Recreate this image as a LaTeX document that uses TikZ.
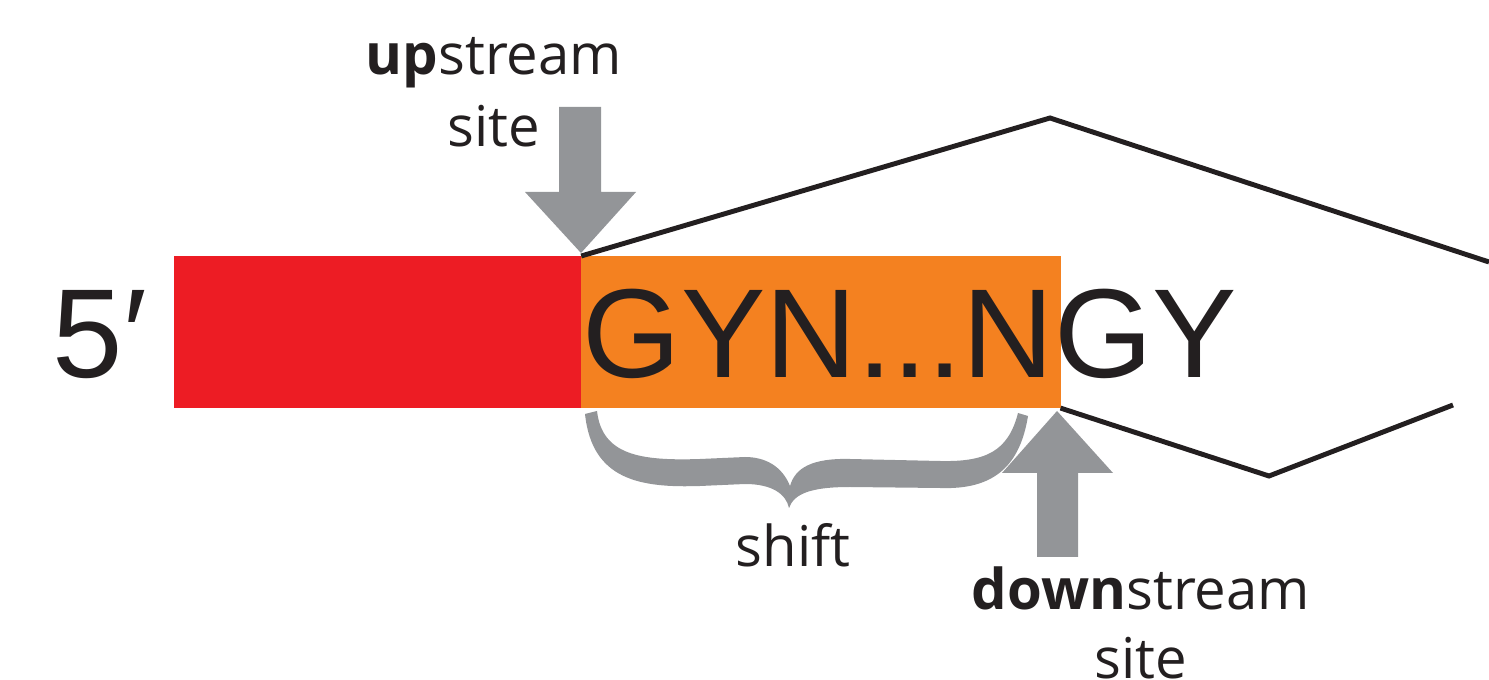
\documentclass[tikz,border=0pt]{standalone}
\usepackage{fontspec}
\setmainfont{Liberation Sans}
\newfontfamily\labelfont{Open Sans}
\usetikzlibrary{positioning}
\definecolor{exonred}{HTML}{ED1C24}
\definecolor{exonorange}{HTML}{F48120}
\definecolor{sitegray}{HTML}{939598}
\definecolor{inkblack}{HTML}{231F20}

\begin{document}
\begin{tikzpicture}[
  x=0.01cm, y=-0.01cm,
  exon/.style={draw=none, inner sep=0pt, outer sep=0pt, minimum height=1.52cm},
  seq/.style={inner sep=0pt, text=inkblack, font=\fontsize{36}{40}\selectfont},
  sitelabel/.style={inner sep=0pt, anchor=base, text=inkblack, font=\labelfont\fontsize{16}{20}\selectfont},
  intron/.style={draw=inkblack, line width=1.4pt},
  sitearrow/.style={fill=sitegray, draw=none}
]
  \useasboundingbox (0,0) rectangle (1489,680);

  % exons
  \node[exon, fill=exonred, minimum width=4.07cm, anchor=north west] (red) at (174,256) {};
  \node[exon, fill=exonorange, minimum width=4.79cm, right=0pt of red] (orange) {};

  % sequence
  \node[seq, anchor=base west] (five) at (52,378) {5′};
  \node[seq, anchor=base west] (motif) at (582,378) {GYN...NGY};

  % intron lines
  \coordinate (peak) at (1050,118);
  \coordinate (topend) at (1489,262);
  \coordinate (valley) at (1269,476);
  \coordinate (botend) at (1453,405);
  \draw[intron] (orange.north west) -- (peak) -- (topend);
  \draw[intron] (orange.south east) -- (valley) -- (botend);

  % site arrows
  \fill[sitearrow] (559,107) -- (601,107) -- (601,192) -- (636,192) -- (581,253)
    -- (525,192) -- (559,192) -- cycle;
  \fill[sitearrow] (1057,411) -- (1113,473) -- (1078,473) -- (1078,557) -- (1037,557)
    -- (1037,473) -- (1002,473) -- cycle;

  % brace
  \fill[sitegray] (585,414) .. controls (592,480) and (640,488) .. (700,486)
    -- (745,484) .. controls (772,484) and (786,494) .. (789,508)
    .. controls (794,494) and (810,487) .. (850,487)
    -- (940,488) .. controls (995,490) and (1020,465) .. (1028,416)
    -- (1018,413) .. controls (1008,452) and (985,462) .. (940,461)
    -- (850,459) .. controls (812,458) and (795,468) .. (790,486)
    .. controls (782,466) and (765,457) .. (745,457)
    -- (700,459) .. controls (640,461) and (602,455) .. (597,411) -- cycle;

  % labels
  \node[sitelabel] (upname) at (494,75) {\textbf{up}stream};
  \node[sitelabel] (upsite) at (494,147) {site};
  \node[sitelabel] (shift) at (793,567) {shift};
  \node[sitelabel] (downname) at (1141,610) {\textbf{down}stream};
  \node[sitelabel] (downsite) at (1141,678) {site};
\end{tikzpicture}
\end{document}
